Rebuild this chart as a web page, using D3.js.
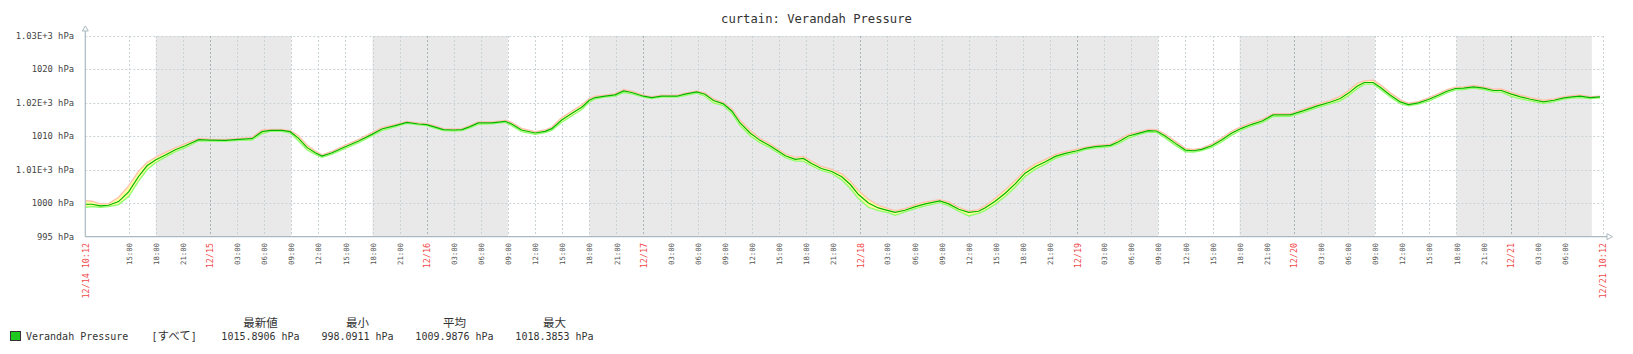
<!DOCTYPE html>
<html>
<head>
<meta charset="utf-8">
<script src="https://cdn.jsdelivr.net/npm/d3@7"></script>
<style>
  html, body { margin: 0; padding: 0; background: #fff; }
  svg { display: block; }
</style>
</head>
<body>
<svg id="chart"></svg>
<script>
// time range of the graph
const START = '2016-12-14 10:12';
const END = '2016-12-21 10:12';

// hours since START, avg / min / max values (hPa)
const hours = [
  0, 0.74, 1.66, 2.58, 3.69, 4.8, 5.9, 6.83, 7.82, 8.86, 9.96, 11.07, 12.55, 13.8, 15.5, 16.97, 18.45, 19.56, 20.48, 21.77,
  22.69, 23.62, 24.54, 25.46, 26.2, 27.31, 28.78, 30.26, 31.73, 32.84,
  34.3, 35.6, 36.9, 37.8, 38.55, 39.65, 40.8, 41.7, 42.6, 43.5, 45.0, 46.5, 47.2, 48.3, 49.8, 50.9, 51.65, 52.75, 53.85, 55.0,
  55.8, 56.45, 57.55, 58.65, 59.6, 60.5, 61.8, 62.7, 63.8, 65.5,
  66.4, 67.7, 68.6, 69.55, 70.65, 71.6, 72.5, 73.6, 74.7, 75.8, 76.7, 77.5, 78.6, 79.5, 80.4, 81.5, 82.65, 83.75, 84.7, 85.6,
  86.7, 87.8, 88.9, 89.65, 90.75, 91.9, 93.0, 94.6, 95.6, 96.7, 97.8, 98.9,
  99.6, 100.7, 101.85, 102.95, 104.05, 105.2, 106.3, 107.4, 108.5, 109.8, 110.7, 111.8, 113.5, 114.4, 115.5, 116.6, 117.7, 118.6, 119.55, 120.7,
  121.8, 122.7, 123.6, 124.7, 125.8, 126.9, 128.0, 129.15, 130.3, 131.5,
  133.4, 134.9, 136.4, 137.8, 138.95, 139.9, 140.8, 141.6, 142.6, 143.4, 144.5, 145.6, 146.5, 147.6, 148.7, 149.8, 150.75, 151.7, 152.6, 153.7,
  154.8, 155.9, 156.8, 157.8, 158.9, 160.0, 161.45, 162.6, 163.7, 164.6, 165.5, 166.6, 167.7
];
const avgValues = [
  999.85, 999.85, 999.6, 999.7, 1000.25, 1001.7, 1004.0, 1005.6, 1006.5, 1007.2, 1008.0, 1008.6, 1009.5, 1009.45, 1009.4, 1009.55, 1009.65, 1010.7, 1010.9, 1010.9,
  1010.7, 1009.7, 1008.35, 1007.55, 1007.05, 1007.55, 1008.45, 1009.3, 1010.3, 1011.1,
  1011.6, 1012.1, 1011.85, 1011.75, 1011.45, 1011.0, 1010.95, 1011.0, 1011.45, 1012.0, 1012.0, 1012.25, 1011.85, 1010.95, 1010.5, 1010.75, 1011.15, 1012.45, 1013.4, 1014.4,
  1015.4, 1015.8, 1016.0, 1016.2, 1016.8, 1016.55, 1016.0, 1015.8, 1016.0, 1016.0,
  1016.3, 1016.65, 1016.3, 1015.35, 1014.85, 1013.75, 1012.0, 1010.5, 1009.4, 1008.6, 1007.8, 1007.1, 1006.55, 1006.7, 1005.95, 1005.2, 1004.75, 1003.95, 1002.8, 1001.3,
  1000.05, 999.3, 998.9, 998.65, 998.95, 999.5, 999.9, 1000.35, 999.9, 999.1, 998.65, 998.8,
  999.3, 1000.25, 1001.5, 1002.9, 1004.5, 1005.5, 1006.2, 1007.0, 1007.45, 1007.85, 1008.2, 1008.45, 1008.65, 1009.2, 1010.05, 1010.45, 1010.85, 1010.8, 1010.05, 1008.95,
  1007.95, 1007.85, 1008.05, 1008.6, 1009.45, 1010.45, 1011.2, 1011.8, 1012.3, 1013.2,
  1013.2, 1013.85, 1014.55, 1015.1, 1015.65, 1016.5, 1017.5, 1018.05, 1018.05, 1017.3, 1016.15, 1015.15, 1014.75, 1015.0, 1015.5, 1016.15, 1016.75, 1017.15, 1017.2, 1017.4,
  1017.2, 1016.85, 1016.85, 1016.35, 1015.9, 1015.55, 1015.15, 1015.4, 1015.75, 1015.9, 1016.0, 1015.8, 1015.89
];
const minValues = [
  999.4, 999.5, 999.4, 999.5, 999.8, 1001.0, 1003.3, 1005.0, 1006.1, 1006.9, 1007.7, 1008.3, 1009.3, 1009.3, 1009.25, 1009.4, 1009.45, 1010.4, 1010.75, 1010.75,
  1010.5, 1009.3, 1008.0, 1007.3, 1006.85, 1007.35, 1008.2, 1009.05, 1010.05, 1010.85,
  1011.4, 1011.95, 1011.7, 1011.6, 1011.25, 1010.85, 1010.8, 1010.85, 1011.25, 1011.8, 1011.85, 1012.1, 1011.6, 1010.7, 1010.3, 1010.55, 1010.9, 1012.1, 1013.05, 1014.05,
  1015.1, 1015.6, 1015.85, 1016.0, 1016.55, 1016.35, 1015.85, 1015.65, 1015.85, 1015.85,
  1016.1, 1016.45, 1016.0, 1015.0, 1014.6, 1013.4, 1011.6, 1010.1, 1009.05, 1008.3, 1007.5, 1006.8, 1006.3, 1006.3, 1005.6, 1004.9, 1004.45, 1003.5, 1002.2, 1000.7,
  999.4, 998.9, 998.6, 998.2, 998.7, 999.2, 999.6, 1000.1, 999.6, 998.8, 998.1, 998.5,
  998.9, 999.8, 1001.0, 1002.4, 1004.0, 1005.1, 1005.85, 1006.7, 1007.2, 1007.6, 1008.0, 1008.25, 1008.45, 1008.9, 1009.75, 1010.25, 1010.65, 1010.6, 1009.75, 1008.65,
  1007.7, 1007.65, 1007.85, 1008.35, 1009.15, 1010.15, 1010.95, 1011.55, 1012.05, 1012.95,
  1013.0, 1013.6, 1014.3, 1014.85, 1015.3, 1016.1, 1017.1, 1017.8, 1017.8, 1017.0, 1015.85, 1014.9, 1014.55, 1014.8, 1015.25, 1015.9, 1016.5, 1016.95, 1017.0, 1017.2,
  1017.0, 1016.65, 1016.6, 1016.0, 1015.6, 1015.3, 1014.9, 1015.2, 1015.55, 1015.7, 1015.8, 1015.65, 1015.75
];
const maxValues = [
  1000.4, 1000.3, 999.9, 999.95, 1000.9, 1002.6, 1004.8, 1006.1, 1006.9, 1007.6, 1008.3, 1008.9, 1009.7, 1009.6, 1009.55, 1009.7, 1009.85, 1010.95, 1011.05, 1011.05,
  1010.85, 1010.1, 1008.7, 1007.8, 1007.25, 1007.75, 1008.7, 1009.55, 1010.55, 1011.3,
  1011.8, 1012.25, 1012.0, 1011.9, 1011.65, 1011.15, 1011.1, 1011.15, 1011.65, 1012.15, 1012.15, 1012.4, 1012.1, 1011.2, 1010.7, 1010.95, 1011.4, 1012.8, 1013.75, 1014.75,
  1015.65, 1016.0, 1016.15, 1016.4, 1017.0, 1016.75, 1016.15, 1015.95, 1016.15, 1016.15,
  1016.45, 1016.8, 1016.5, 1015.6, 1015.05, 1014.1, 1012.4, 1010.9, 1009.7, 1008.9, 1008.1, 1007.4, 1006.85, 1007.0, 1006.3, 1005.5, 1005.05, 1004.4, 1003.3, 1001.9,
  1000.6, 999.7, 999.2, 998.9, 999.2, 999.8, 1000.2, 1000.55, 1000.2, 999.4, 998.85, 999.05,
  999.6, 1000.7, 1002.0, 1003.4, 1004.9, 1005.9, 1006.55, 1007.3, 1007.7, 1008.1, 1008.4, 1008.65, 1008.85, 1009.5, 1010.3, 1010.65, 1011.05, 1011.0, 1010.35, 1009.25,
  1008.2, 1008.05, 1008.25, 1008.85, 1009.75, 1010.75, 1011.45, 1012.05, 1012.55, 1013.4,
  1013.4, 1014.1, 1014.8, 1015.35, 1016.0, 1016.9, 1017.9, 1018.3, 1018.39, 1017.7, 1016.5, 1015.45, 1014.95, 1015.2, 1015.75, 1016.4, 1017.0, 1017.35, 1017.4, 1017.6,
  1017.4, 1017.05, 1017.1, 1016.6, 1016.15, 1015.8, 1015.4, 1015.6, 1015.95, 1016.1, 1016.2, 1015.95, 1016.0
];

// y ticks and their labels as printed on the graph
const yTicks = [995, 1000, 1005, 1010, 1015, 1020, 1025];
const yTickLabels = ['995 hPa', '1000 hPa', '1.01E+3 hPa', '1010 hPa', '1.02E+3 hPa', '1020 hPa', '1.03E+3 hPa'];

// non-working time (shaded)
const offPeriods = [
  ['2016-12-14 18:00', '2016-12-15 09:00'],
  ['2016-12-15 18:00', '2016-12-16 09:00'],
  ['2016-12-16 18:00', '2016-12-19 09:00'],
  ['2016-12-19 18:00', '2016-12-20 09:00'],
  ['2016-12-20 18:00', '2016-12-21 09:00']
];

// legend
const seriesName = 'Verandah Pressure';
const funcLabel = 'すべて';
const statHeaders = ['最新値', '最小', '平均', '最大'];
const statValues = ['1015.8906 hPa', '998.0911 hPa', '1009.9876 hPa', '1018.3853 hPa'];

(function() {
  const W = 1633, H = 354;
  const X0 = 85.3, X1 = 1602.7, Y0 = 36, Y1 = 236.7;
  const MONO = '"DejaVu Sans Mono", "Noto Sans CJK JP", monospace';
  const CJK = '"Noto Sans CJK JP", sans-serif';

  const parse = d3.timeParse('%Y-%m-%d %H:%M');
  const tStart = parse(START), tEnd = parse(END);

  const svg = d3.select('#chart').attr('width', W).attr('height', H)
    .style('background', '#fff');

  const x = d3.scaleTime().domain([tStart, tEnd]).range([X0, X1]);
  const y = d3.scaleLinear().domain([995, 1025]).range([Y1, Y0]);

  // title
  svg.append('text')
    .attr('x', W / 2).attr('y', 23)
    .attr('text-anchor', 'middle')
    .attr('font-family', MONO).attr('font-size', 12.2)
    .attr('fill', '#333')
    .text('curtain: ' + seriesName);

  // shaded non-working periods
  svg.append('g').selectAll('rect')
    .data(offPeriods)
    .join('rect')
    .attr('x', d => x(parse(d[0])))
    .attr('y', Y0)
    .attr('width', d => x(parse(d[1])) - x(parse(d[0])))
    .attr('height', Y1 - Y0)
    .attr('fill', '#e9e9e9');

  // horizontal grid
  svg.append('g').selectAll('line')
    .data(yTicks.filter(v => v !== 995))
    .join('line')
    .attr('x1', X0).attr('x2', X1)
    .attr('y1', d => Math.round(y(d)) + 0.5).attr('y2', d => Math.round(y(d)) + 0.5)
    .attr('stroke', '#c9d2d7').attr('stroke-dasharray', '2,2');

  // vertical grid, every 3 hours (none too close to either end)
  const xTicks = d3.timeHour.every(3).range(tStart, tEnd)
    .filter(t => x(tEnd) - x(t) > 20 && x(t) - x(tStart) > 20);
  svg.append('g').selectAll('line')
    .data(xTicks.concat([tEnd]))
    .join('line')
    .attr('x1', d => Math.round(x(d)) + 0.5).attr('x2', d => Math.round(x(d)) + 0.5)
    .attr('y1', Y0).attr('y2', Y1)
    .attr('stroke', d => d.getHours() === 0 ? '#a8b3b8' : '#c9d2d7')
    .attr('stroke-dasharray', '2,2');

  // data
  const pts = hours.map((h, i) => ({
    t: d3.timeMinute.offset(tStart, Math.round(h * 60)),
    avg: avgValues[i], min: minValues[i], max: maxValues[i]
  }));

  svg.append('path')
    .datum(pts)
    .attr('d', d3.area().x(d => x(d.t)).y0(d => y(d.min)).y1(d => y(d.max)))
    .attr('fill', '#ffffa0');
  svg.append('path')
    .datum(pts)
    .attr('d', d3.line().x(d => x(d.t)).y(d => y(d.min)))
    .attr('fill', 'none').attr('stroke', '#8cff6e').attr('stroke-width', 1.3);
  svg.append('path')
    .datum(pts)
    .attr('d', d3.line().x(d => x(d.t)).y(d => y(d.max)))
    .attr('fill', 'none').attr('stroke', '#ffbfb0').attr('stroke-width', 1.3);
  svg.append('path')
    .datum(pts)
    .attr('d', d3.line().x(d => x(d.t)).y(d => y(d.avg)))
    .attr('fill', 'none').attr('stroke', '#00b400').attr('stroke-width', 1.2);

  // axes
  const AX = '#aab9c1';
  svg.append('line')
    .attr('x1', X0).attr('x2', X0).attr('y1', 30).attr('y2', Y1)
    .attr('stroke', AX).attr('stroke-width', 1.2);
  svg.append('line')
    .attr('x1', X0).attr('x2', 1608).attr('y1', Y1).attr('y2', Y1)
    .attr('stroke', AX).attr('stroke-width', 1.2);
  svg.append('path')
    .attr('d', `M${X0 - 3},31L${X0},26L${X0 + 3},31Z`)
    .attr('fill', '#fff').attr('stroke', AX);
  svg.append('path')
    .attr('d', `M1607,${Y1 - 3}L1612.5,${Y1}L1607,${Y1 + 3}Z`)
    .attr('fill', '#fff').attr('stroke', AX);

  // y labels
  svg.append('g').selectAll('text')
    .data(yTicks)
    .join('text')
    .attr('x', 74).attr('y', d => y(d) + 3)
    .attr('text-anchor', 'end')
    .attr('font-family', MONO).attr('font-size', 8.8)
    .attr('fill', '#444')
    .text((d, i) => yTickLabels[i]);

  // x labels
  const fmtHour = d3.timeFormat('%H:%M');
  const fmtDay = d3.timeFormat('%m/%d');
  const fmtFull = d3.timeFormat('%m/%d %H:%M');
  const xLabels = xTicks.map(t => ({
    t: t,
    text: t.getHours() === 0 ? fmtDay(t) : fmtHour(t),
    red: t.getHours() === 0
  }));
  xLabels.unshift({ t: tStart, text: fmtFull(tStart), red: true });
  xLabels.push({ t: tEnd, text: fmtFull(tEnd), red: true });

  svg.append('g').selectAll('text')
    .data(xLabels)
    .join('text')
    .attr('transform', d => `translate(${x(d.t) + 0.5},243) rotate(-90)`)
    .attr('dy', '0.36em')
    .attr('text-anchor', 'end')
    .attr('font-family', MONO)
    .attr('font-size', d => d.red ? 8.4 : 7.3)
    .attr('fill', d => d.red ? '#f04848' : '#555')
    .text(d => d.text);

  // legend
  svg.append('rect')
    .attr('x', 10.5).attr('y', 331.5).attr('width', 10).attr('height', 9)
    .attr('fill', '#1ec81e').attr('stroke', '#333');
  svg.append('text')
    .attr('x', 26).attr('y', 340)
    .attr('font-family', MONO).attr('font-size', 10)
    .attr('fill', '#333')
    .text(seriesName);
  const fl = svg.append('text')
    .attr('x', 151.5).attr('y', 340)
    .attr('font-family', MONO).attr('font-size', 10)
    .attr('fill', '#333');
  fl.append('tspan').text('[');
  fl.append('tspan').attr('font-family', CJK).attr('font-size', 11.5).text(funcLabel);
  fl.append('tspan').text(']');

  const colX = [260.5, 357.5, 454.5, 554.5];
  svg.append('g').selectAll('text')
    .data(statHeaders)
    .join('text')
    .attr('x', (d, i) => colX[i]).attr('y', 326.5)
    .attr('text-anchor', 'middle')
    .attr('font-family', CJK).attr('font-size', 11.5)
    .attr('fill', '#333')
    .text(d => d);
  svg.append('g').selectAll('text')
    .data(statValues)
    .join('text')
    .attr('x', (d, i) => colX[i]).attr('y', 340)
    .attr('text-anchor', 'middle')
    .attr('font-family', MONO).attr('font-size', 10)
    .attr('fill', '#333')
    .text(d => d);
})();
</script>
</body>
</html>
